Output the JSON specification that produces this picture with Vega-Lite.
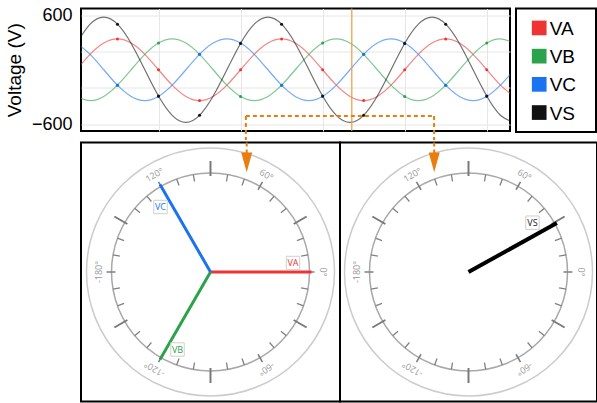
{
  "$schema": "https://vega.github.io/schema/vega-lite/v6.json",
  "background": "white",
  "padding": {"left": 4, "top": 4.5, "right": 0, "bottom": 0},
  "spacing": -3.3,
  "config": {
    "view": {"stroke": "black", "strokeWidth": 2},
    "font": "Liberation Sans",
    "axis": {"gridColor": "#e6e6e6", "gridWidth": 1}
  },
  "vconcat": [
    {
      "bounds": "flush",
      "spacing": 6,
      "hconcat": [
        {
          "width": 429,
          "height": 122.5,
          "data": {"values": [
            {"x": -180, "VA": 0, "VB": -294, "VC": 294, "VS": 290},
            {"x": -150, "VA": 170, "VB": -340, "VC": 170, "VS": 502},
            {"x": -120, "VA": 294, "VB": -294, "VC": 0, "VS": 580},
            {"x": -90, "VA": 340, "VB": -170, "VC": -170, "VS": 502},
            {"x": -60, "VA": 294, "VB": 0, "VC": -294, "VS": 290},
            {"x": -30, "VA": 170, "VB": 170, "VC": -340, "VS": 0},
            {"x": 0, "VA": 0, "VB": 294, "VC": -294, "VS": -290},
            {"x": 30, "VA": -170, "VB": 340, "VC": -170, "VS": -502},
            {"x": 60, "VA": -294, "VB": 294, "VC": 0, "VS": -580},
            {"x": 90, "VA": -340, "VB": 170, "VC": 170, "VS": -502},
            {"x": 120, "VA": -294, "VB": 0, "VC": 294, "VS": -290},
            {"x": 150, "VA": -170, "VB": -170, "VC": 340, "VS": 0},
            {"x": 180, "VA": 0, "VB": -294, "VC": 294, "VS": 290},
            {"x": 210, "VA": 170, "VB": -340, "VC": 170, "VS": 502},
            {"x": 240, "VA": 294, "VB": -294, "VC": 0, "VS": 580},
            {"x": 270, "VA": 340, "VB": -170, "VC": -170, "VS": 502},
            {"x": 300, "VA": 294, "VB": 0, "VC": -294, "VS": 290},
            {"x": 330, "VA": 170, "VB": 170, "VC": -340, "VS": 0},
            {"x": 360, "VA": 0, "VB": 294, "VC": -294, "VS": -290},
            {"x": 390, "VA": -170, "VB": 340, "VC": -170, "VS": -502},
            {"x": 420, "VA": -294, "VB": 294, "VC": 0, "VS": -580},
            {"x": 450, "VA": -340, "VB": 170, "VC": 170, "VS": -502},
            {"x": 480, "VA": -294, "VB": 0, "VC": 294, "VS": -290},
            {"x": 510, "VA": -170, "VB": -170, "VC": 340, "VS": 0},
            {"x": 540, "VA": 0, "VB": -294, "VC": 294, "VS": 290},
            {"x": 570, "VA": 170, "VB": -340, "VC": 170, "VS": 502},
            {"x": 600, "VA": 294, "VB": -294, "VC": 0, "VS": 580},
            {"x": 630, "VA": 340, "VB": -170, "VC": -170, "VS": 502},
            {"x": 660, "VA": 294, "VB": 0, "VC": -294, "VS": 290},
            {"x": 690, "VA": 170, "VB": 170, "VC": -340, "VS": 0},
            {"x": 720, "VA": 0, "VB": 294, "VC": -294, "VS": -290},
            {"x": 750, "VA": -170, "VB": 340, "VC": -170, "VS": -502},
            {"x": 780, "VA": -294, "VB": 294, "VC": 0, "VS": -580}
          ]},
          "transform": [{"fold": ["VA", "VB", "VC", "VS"], "as": ["s", "v"]}],
          "layer": [
            {
              "mark": {"type": "line", "interpolate": "natural", "strokeWidth": 1.2, "opacity": 0.6, "clip": true},
              "encoding": {
                "x": {"field": "x", "type": "quantitative",
                  "scale": {"domain": [-170, 771], "nice": false, "zero": false},
                  "axis": {"title": null, "grid": true, "values": [0, 180, 360, 540, 720], "labels": false, "ticks": false, "domain": false, "tickSize": 0, "labelPadding": 0, "minExtent": 0, "maxExtent": 0}},
                "y": {"field": "v", "type": "quantitative",
                  "scale": {"domain": [-675, 675], "nice": false},
                  "axis": {"title": "Voltage (V)", "values": [-600, -400, -200, 0, 200, 400, 600],
                    "labelExpr": "datum.value % 600 === 0 ? datum.label : ''",
                    "grid": true, "ticks": false, "domain": false,
                    "labelFontSize": 18, "labelColor": "black", "labelPadding": 9, "labelFont": "Liberation Sans",
                    "titleFontSize": 19, "titleFontWeight": "normal", "titleColor": "black", "titlePadding": 7, "titleFont": "Liberation Sans"}},
                "color": {"field": "s", "type": "nominal",
                  "scale": {"domain": ["VA", "VB", "VC", "VS"], "range": ["#ee3333", "#2ca24c", "#1a73f0", "#111111"]},
                  "legend": null}
              }
            },
            {
              "transform": [{"filter": "datum.x % 90 === 0"}],
              "mark": {"type": "point", "filled": true, "size": 9, "opacity": 1, "clip": true},
              "encoding": {
                "x": {"field": "x", "type": "quantitative"},
                "y": {"field": "v", "type": "quantitative"},
                "color": {"field": "s", "type": "nominal", "legend": null}
              }
            },
            {
              "data": {"values": [{}]},
              "mark": {"type": "rule", "color": "#ec9a40", "strokeWidth": 1.2},
              "encoding": {"x": {"datum": 424}}
            },
            {
              "data": {"values": [{}]},
              "mark": {"type": "rule", "color": "#e97d10", "strokeWidth": 2, "strokeDash": [4, 3]},
              "encoding": {"x": {"datum": 191.6}, "x2": {"datum": 604.5}, "y": {"datum": -510}}
            },
            {
              "data": {"values": [{"c": 191.6}, {"c": 604.5}]},
              "mark": {"type": "rule", "color": "#e97d10", "strokeWidth": 2, "strokeDash": [4, 3]},
              "encoding": {"x": {"field": "c", "type": "quantitative"}, "y": {"datum": -510}, "y2": {"datum": -775}}
            }
          ]
        },
        {
          "width": 80,
          "height": 123.5,
          "data": {"values": [{"s": "VA"}, {"s": "VB"}, {"s": "VC"}, {"s": "VS"}]},
          "encoding": {"y": {"field": "s", "type": "nominal", "scale": {"type": "point", "padding": 0.69}, "axis": null}},
          "layer": [
            {
              "mark": {"type": "point", "shape": "square", "filled": true, "size": 216, "opacity": 1},
              "encoding": {
                "x": {"datum": 23.2, "scale": {"domain": [0, 80], "nice": false, "zero": false}, "axis": null},
                "color": {"field": "s", "type": "nominal",
                  "scale": {"domain": ["VA", "VB", "VC", "VS"], "range": ["#ee3333", "#2ca24c", "#1a73f0", "#000000"]},
                  "legend": null}
              }
            },
            {
              "mark": {"type": "text", "align": "left", "baseline": "middle", "fontSize": 19, "font": "Liberation Sans", "dy": 1, "color": "black"},
              "encoding": {"x": {"datum": 33.7}, "text": {"field": "s"}}
            }
          ]
        }
      ]
    },
    {
      "bounds": "flush",
      "spacing": 0,
      "hconcat": [
        {
          "width": 259,
          "height": 259,
          "layer": [
            {
              "data": {"values": [{}]},
              "mark": {"type": "arc", "filled": false, "stroke": "#cccccc", "strokeWidth": 1.5},
              "encoding": {
                "theta": {"datum": 0, "scale": {"type": "linear", "domain": [90, -270], "range": [0, 6.283185307179586]}},
                "theta2": {"datum": 360},
                "radius": {"datum": 124, "scale": {"type": "linear", "domain": [0, 100], "range": [0, 100]}}
              }
            },
            {
              "data": {"values": [{}]},
              "mark": {"type": "arc", "filled": false, "stroke": "#a8a8a8", "strokeWidth": 1.5},
              "encoding": {"theta": {"datum": 0}, "theta2": {"datum": 360}, "radius": {"datum": 99}}
            },
            {
              "data": {"values": [{"a": 10}, {"a": 20}, {"a": 40}, {"a": 50}, {"a": 70}, {"a": 80}, {"a": 100}, {"a": 110}, {"a": 130}, {"a": 140}, {"a": 160}, {"a": 170}, {"a": 190}, {"a": 200}, {"a": 220}, {"a": 230}, {"a": 250}, {"a": 260}, {"a": 280}, {"a": 290}, {"a": 310}, {"a": 320}, {"a": 340}, {"a": 350}]},
              "mark": {"type": "arc", "filled": false, "stroke": "#808080", "strokeWidth": 1.3},
              "encoding": {"theta": {"field": "a", "type": "quantitative"}, "theta2": {"field": "a"}, "radius": {"datum": 99}, "radius2": {"datum": 92}}
            },
            {
              "data": {"values": [{"a": 0}, {"a": 60}, {"a": 120}, {"a": 180}, {"a": 240}, {"a": 300}]},
              "mark": {"type": "arc", "filled": false, "stroke": "#808080", "strokeWidth": 1.6},
              "encoding": {"theta": {"field": "a", "type": "quantitative"}, "theta2": {"field": "a"}, "radius": {"datum": 104}, "radius2": {"datum": 95}}
            },
            {
              "data": {"values": [{"a": 30}, {"a": 90}, {"a": 150}, {"a": 210}, {"a": 270}, {"a": 330}]},
              "mark": {"type": "arc", "filled": false, "stroke": "#7a7a7a", "strokeWidth": 2},
              "encoding": {"theta": {"field": "a", "type": "quantitative"}, "theta2": {"field": "a"}, "radius": {"datum": 111}, "radius2": {"datum": 96}}
            },
            {
              "data": {"values": [{"a": 0, "t": "0°"}, {"a": 60, "t": "60°"}, {"a": 120, "t": "120°"}, {"a": 180, "t": "-180°"}, {"a": -120, "t": "-120°"}, {"a": -60, "t": "-60°"}]},
              "mark": {"type": "text", "font": "Open Sans", "fontSize": 9, "color": "#999999", "align": "center", "baseline": "middle"},
              "encoding": {
                "theta": {"field": "a", "type": "quantitative", "stack": null},
                "radius": {"datum": 112},
                "angle": {"field": "a", "type": "quantitative", "scale": {"domain": [0, 360], "range": [90, -270]}},
                "text": {"field": "t"}
              }
            },
            {
              "data": {"values": [{"s": "VA", "a": 0}, {"s": "VB", "a": -120}, {"s": "VC", "a": 120}]},
              "mark": {"type": "arc", "filled": false, "strokeWidth": 3},
              "encoding": {
                "theta": {"field": "a", "type": "quantitative"}, "theta2": {"field": "a"},
                "radius": {"datum": 101}, "radius2": {"datum": 0},
                "color": {"field": "s", "type": "nominal", "scale": {"domain": ["VA", "VB", "VC", "VS"], "range": ["#ee3333", "#2ca24c", "#1a6ff0", "#000000"]}, "legend": null}
              }
            },
            {
              "data": {"values": [{"s": "VA", "lx": 82.5, "ly": 9}, {"s": "VB", "lx": -33, "ly": -77.5}, {"s": "VC", "lx": -50, "ly": 65}]},
              "mark": {"type": "point", "shape": "square", "size": 180, "filled": true, "fill": "white", "stroke": "#cfcfcf", "strokeWidth": 1, "opacity": 1},
              "encoding": {
                "x": {"field": "lx", "type": "quantitative", "scale": {"domain": [-129.5, 129.5], "nice": false, "zero": false}, "axis": null},
                "y": {"field": "ly", "type": "quantitative", "scale": {"domain": [-129.5, 129.5], "nice": false, "zero": false}, "axis": null}
              }
            },
            {
              "data": {"values": [{"s": "VA", "lx": 82.5, "ly": 9}, {"s": "VB", "lx": -33, "ly": -77.5}, {"s": "VC", "lx": -50, "ly": 65}]},
              "mark": {"type": "text", "font": "Open Sans", "fontSize": 9, "align": "center", "baseline": "middle"},
              "encoding": {
                "x": {"field": "lx", "type": "quantitative"},
                "y": {"field": "ly", "type": "quantitative"},
                "text": {"field": "s"},
                "color": {"field": "s", "type": "nominal", "legend": null}
              }
            },
            {
              "data": {"values": [{}]},
              "mark": {"type": "rule", "color": "#e97d10", "strokeWidth": 2, "strokeDash": [4, 3]},
              "encoding": {"x": {"datum": 36.2}, "y": {"datum": 129.5}, "y2": {"datum": 119}}
            },
            {
              "data": {"values": [{}]},
              "mark": {"type": "point", "shape": "M-1,-1.8L1,-1.8L0,1.8Z", "size": 121, "filled": true, "color": "#e97d10", "opacity": 1},
              "encoding": {"x": {"datum": 36.2}, "y": {"datum": 109.6}}
            }
          ]
        },
        {
          "width": 257,
          "height": 259,
          "layer": [
            {
              "data": {"values": [{}]},
              "mark": {"type": "arc", "filled": false, "stroke": "#cccccc", "strokeWidth": 1.5},
              "encoding": {
                "theta": {"datum": 0, "scale": {"type": "linear", "domain": [90, -270], "range": [0, 6.283185307179586]}},
                "theta2": {"datum": 360},
                "radius": {"datum": 124, "scale": {"type": "linear", "domain": [0, 100], "range": [0, 100]}}
              }
            },
            {
              "data": {"values": [{}]},
              "mark": {"type": "arc", "filled": false, "stroke": "#a8a8a8", "strokeWidth": 1.5},
              "encoding": {"theta": {"datum": 0}, "theta2": {"datum": 360}, "radius": {"datum": 99}}
            },
            {
              "data": {"values": [{"a": 10}, {"a": 20}, {"a": 40}, {"a": 50}, {"a": 70}, {"a": 80}, {"a": 100}, {"a": 110}, {"a": 130}, {"a": 140}, {"a": 160}, {"a": 170}, {"a": 190}, {"a": 200}, {"a": 220}, {"a": 230}, {"a": 250}, {"a": 260}, {"a": 280}, {"a": 290}, {"a": 310}, {"a": 320}, {"a": 340}, {"a": 350}]},
              "mark": {"type": "arc", "filled": false, "stroke": "#808080", "strokeWidth": 1.3},
              "encoding": {"theta": {"field": "a", "type": "quantitative"}, "theta2": {"field": "a"}, "radius": {"datum": 99}, "radius2": {"datum": 92}}
            },
            {
              "data": {"values": [{"a": 0}, {"a": 60}, {"a": 120}, {"a": 180}, {"a": 240}, {"a": 300}]},
              "mark": {"type": "arc", "filled": false, "stroke": "#808080", "strokeWidth": 1.6},
              "encoding": {"theta": {"field": "a", "type": "quantitative"}, "theta2": {"field": "a"}, "radius": {"datum": 104}, "radius2": {"datum": 95}}
            },
            {
              "data": {"values": [{"a": 30}, {"a": 90}, {"a": 150}, {"a": 210}, {"a": 270}, {"a": 330}]},
              "mark": {"type": "arc", "filled": false, "stroke": "#7a7a7a", "strokeWidth": 2},
              "encoding": {"theta": {"field": "a", "type": "quantitative"}, "theta2": {"field": "a"}, "radius": {"datum": 111}, "radius2": {"datum": 96}}
            },
            {
              "data": {"values": [{"a": 0, "t": "0°"}, {"a": 60, "t": "60°"}, {"a": 120, "t": "120°"}, {"a": 180, "t": "-180°"}, {"a": -120, "t": "-120°"}, {"a": -60, "t": "-60°"}]},
              "mark": {"type": "text", "font": "Open Sans", "fontSize": 9, "color": "#999999", "align": "center", "baseline": "middle"},
              "encoding": {
                "theta": {"field": "a", "type": "quantitative", "stack": null},
                "radius": {"datum": 112},
                "angle": {"field": "a", "type": "quantitative", "scale": {"domain": [0, 360], "range": [90, -270]}},
                "text": {"field": "t"}
              }
            },
            {
              "data": {"values": [{"s": "VS", "a": 29}]},
              "mark": {"type": "arc", "filled": false, "strokeWidth": 4, "stroke": "black"},
              "encoding": {
                "theta": {"field": "a", "type": "quantitative"}, "theta2": {"field": "a"},
                "radius": {"datum": 101}, "radius2": {"datum": 0}
              }
            },
            {
              "data": {"values": [{"s": "VS", "lx": 64, "ly": 49.3}]},
              "mark": {"type": "point", "shape": "square", "size": 180, "filled": true, "fill": "white", "stroke": "#cfcfcf", "strokeWidth": 1, "opacity": 1},
              "encoding": {
                "x": {"field": "lx", "type": "quantitative", "scale": {"domain": [-128.5, 128.5], "nice": false, "zero": false}, "axis": null},
                "y": {"field": "ly", "type": "quantitative", "scale": {"domain": [-129.5, 129.5], "nice": false, "zero": false}, "axis": null}
              }
            },
            {
              "data": {"values": [{"s": "VS", "lx": 64, "ly": 49.3}]},
              "mark": {"type": "text", "font": "Open Sans", "fontSize": 9, "align": "center", "baseline": "middle", "color": "#222222"},
              "encoding": {
                "x": {"field": "lx", "type": "quantitative"},
                "y": {"field": "ly", "type": "quantitative"},
                "text": {"field": "s"}
              }
            },
            {
              "data": {"values": [{}]},
              "mark": {"type": "rule", "color": "#e97d10", "strokeWidth": 2, "strokeDash": [4, 3]},
              "encoding": {"x": {"datum": -34.3}, "y": {"datum": 129.5}, "y2": {"datum": 119}}
            },
            {
              "data": {"values": [{}]},
              "mark": {"type": "point", "shape": "M-1,-1.8L1,-1.8L0,1.8Z", "size": 121, "filled": true, "color": "#e97d10", "opacity": 1},
              "encoding": {"x": {"datum": -34.3}, "y": {"datum": 109.6}}
            }
          ]
        }
      ]
    }
  ]
}
